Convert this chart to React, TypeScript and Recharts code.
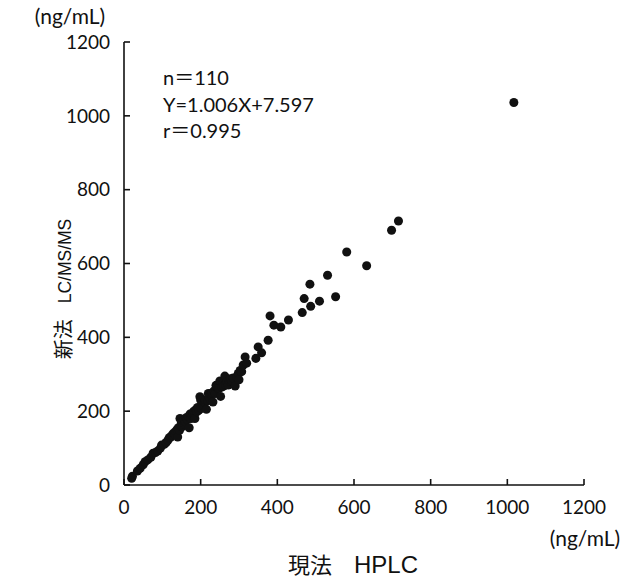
import { Scatter, ScatterChart, XAxis, YAxis, ZAxis } from "recharts";

// 現法 HPLC (x) vs 新法 LC/MS/MS (y), ng/mL
const hplc = [
  20, 22, 35, 42, 50, 55, 62, 70, 76, 82, 88, 95, 98, 105, 110, 115, 118, 122, 125, 129,
  132, 135, 138, 140, 142, 145, 146, 148, 150, 152, 155, 158, 160, 162, 165, 168, 170, 172, 175, 178,
  180, 182, 185, 188, 190, 192, 195, 198, 200, 202, 205, 208, 210, 212, 215, 218, 220, 222, 225, 228,
  230, 232, 235, 238, 240, 242, 245, 248, 250, 252, 255, 258, 260, 263, 265, 268, 272, 275, 278, 282,
  285, 290, 294, 298, 300, 303, 307, 311, 316, 320, 344, 350, 359, 376, 381, 391, 409, 429, 465, 470,
  487, 485, 510, 531, 552, 581, 633, 698, 716, 1017,
];
const lcmsms = [
  18, 24, 38, 45, 55, 63, 68, 75, 86, 88, 92, 100, 108, 110, 115, 122, 128, 130, 135, 140,
  138, 145, 150, 130, 155, 148, 180, 160, 170, 158, 175, 165, 172, 182, 178, 185, 155, 192, 180, 188,
  195, 200, 180, 205, 198, 210, 202, 239, 230, 208, 220, 212, 225, 230, 205, 228, 248, 240, 232, 245,
  250, 225, 255, 248, 270, 266, 262, 262, 282, 240, 265, 275, 268, 295, 272, 278, 271, 282, 288, 280,
  290, 268, 293, 302, 285, 310, 307, 325, 347, 330, 343, 374, 358, 392, 458, 433, 428, 447, 467, 505,
  484, 544, 498, 568, 510, 631, 594, 690, 715, 1036,
];
const ticks = [0, 200, 400, 600, 800, 1000, 1200];

const points = hplc.map((x, i) => ({ x, y: lcmsms[i] }));

const font = "Lato, 'Noto Sans CJK JP', sans-serif";
const titleFont = "'Liberation Sans', 'Noto Sans CJK JP', sans-serif";
const tickStyle = { fontSize: 19, fill: "#111", fontFamily: font };

export default function App() {
  return (
    <div style={{ position: "absolute", left: 0, top: 0, width: 641, height: 579, background: "#fff", fontFamily: font, color: "#111" }}>
      <ScatterChart width={641} height={579} margin={{ top: 42, right: 57, left: 0, bottom: 0 }}>
        <XAxis
          type="number"
          dataKey="x"
          domain={[0, 1200]}
          ticks={ticks}
          height={94}
          tickSize={-6}
          tickMargin={22}
          tick={tickStyle}
          axisLine={{ stroke: "#111", strokeWidth: 1.6 }}
          tickLine={{ stroke: "#111", strokeWidth: 1.6 }}
          interval={0}
        />
        <YAxis
          type="number"
          dataKey="y"
          domain={[0, 1200]}
          ticks={ticks}
          width={124}
          tickSize={-6}
          tickMargin={20}
          tick={tickStyle}
          axisLine={{ stroke: "#111", strokeWidth: 1.6 }}
          tickLine={{ stroke: "#111", strokeWidth: 1.6 }}
          interval={0}
        />
        <ZAxis range={[64, 64]} />
        <Scatter data={points} fill="#111" shape="circle" isAnimationActive={false} />
      </ScatterChart>

      <div style={{ position: "absolute", left: 70, top: 15, transform: "translate(-50%, -50%)", fontSize: 21, lineHeight: 1, whiteSpace: "nowrap" }}>
        (ng/mL)
      </div>
      <div style={{ position: "absolute", left: 585, top: 537, transform: "translate(-50%, -50%)", fontSize: 21, lineHeight: 1, whiteSpace: "nowrap" }}>
        (ng/mL)
      </div>
      <div style={{ position: "absolute", left: 163, top: 64, fontSize: 20, lineHeight: "26.5px", whiteSpace: "nowrap" }}>
        <div>n＝110</div>
        <div>Y=1.006X+7.597</div>
        <div>r＝0.995</div>
      </div>
      <div
        style={{
          position: "absolute",
          left: 353,
          top: 565,
          transform: "translate(-50%, -50%)",
          fontSize: 22,
          lineHeight: 1,
          whiteSpace: "nowrap",
          fontFamily: titleFont,
        }}
      >
        現法<span style={{ display: "inline-block", width: 22 }} />
        <span style={{ fontSize: 24 }}>HPLC</span>
      </div>
      <div
        style={{
          position: "absolute",
          left: 64,
          top: 289,
          transform: "translate(-50%, -50%) rotate(-90deg)",
          fontSize: 20,
          lineHeight: 1,
          whiteSpace: "nowrap",
          fontFamily: titleFont,
        }}
      >
        新法<span style={{ display: "inline-block", width: 16 }} />
        <span style={{ fontSize: 17.5 }}>LC/MS/MS</span>
      </div>
    </div>
  );
}
